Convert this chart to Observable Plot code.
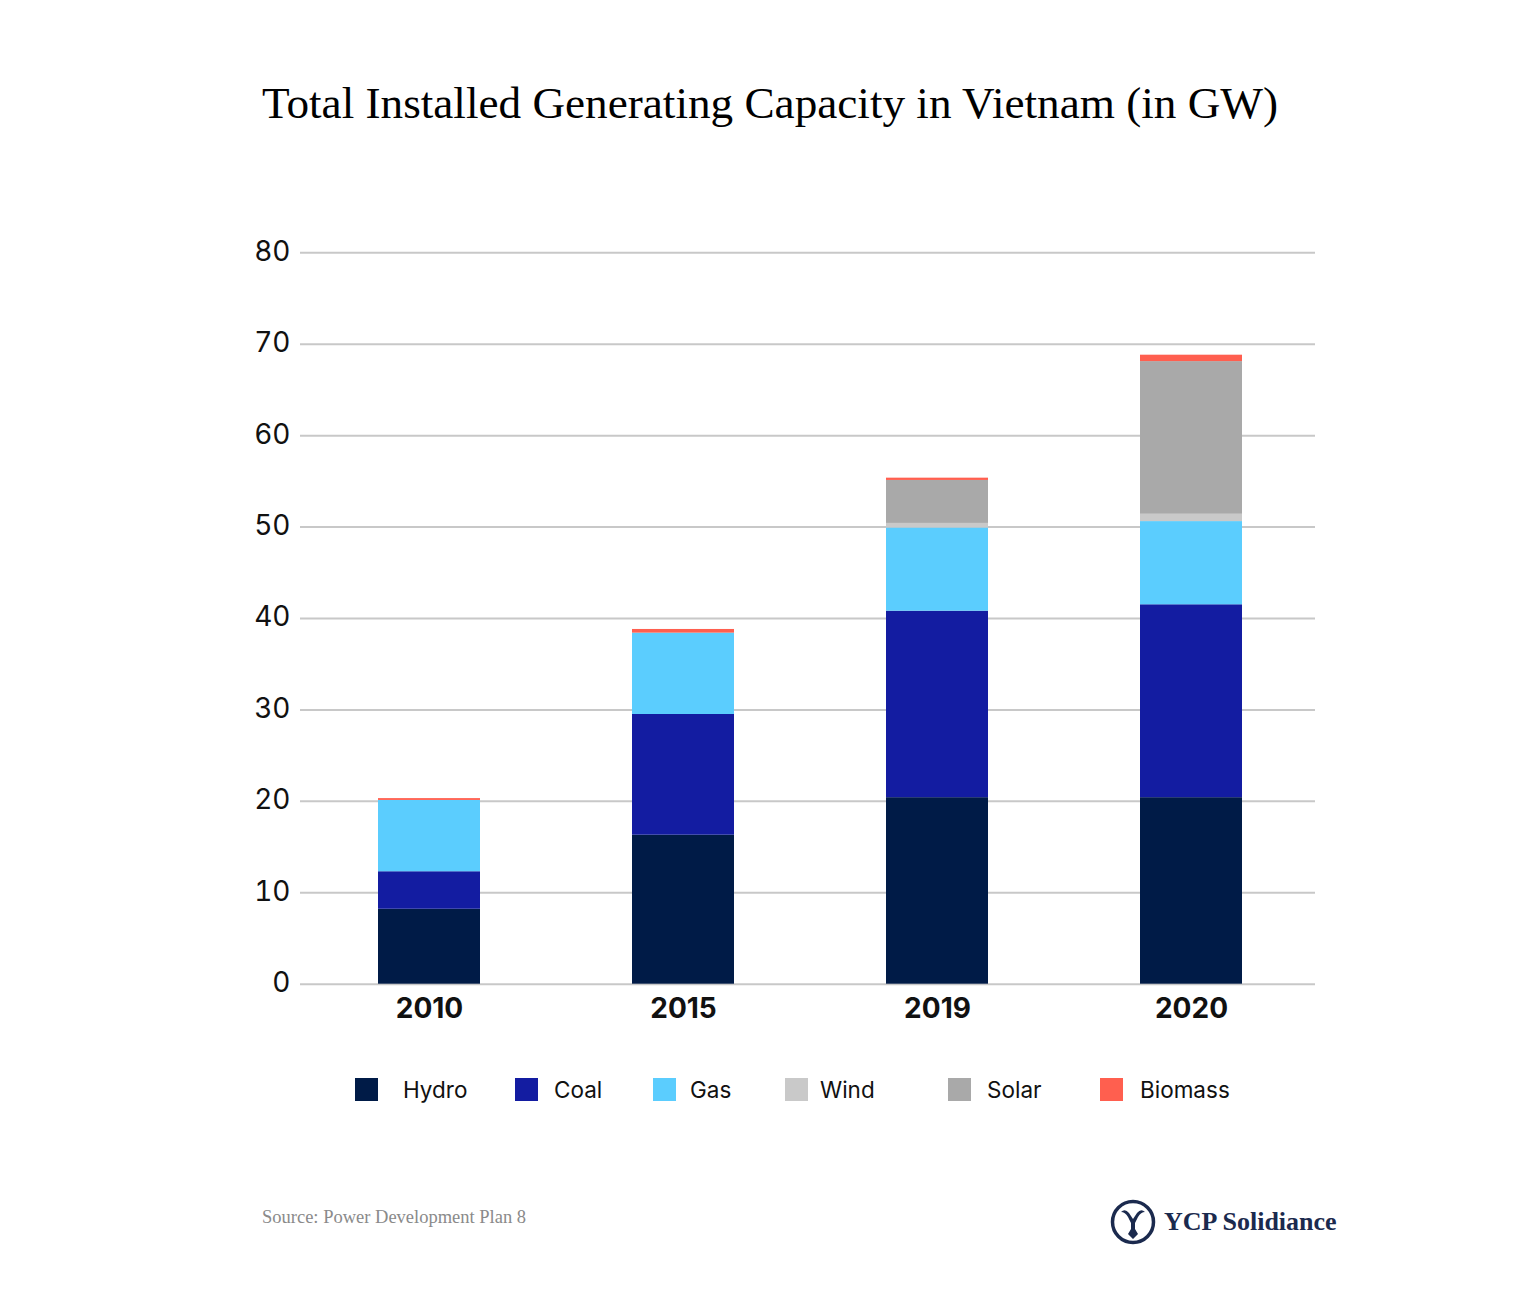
<!DOCTYPE html>
<html><head><meta charset="utf-8">
<script src="https://cdn.jsdelivr.net/npm/d3@7"></script>
<script src="https://cdn.jsdelivr.net/npm/@observablehq/plot@0.6"></script>
<style>
html,body{margin:0;padding:0;background:#fff;}
body{width:1540px;height:1302px;position:relative;overflow:hidden;}
#title{position:absolute;left:0;top:77px;width:1540px;text-align:center;font-family:"Liberation Serif",serif;font-size:45.2px;color:#000;}
#chart{position:absolute;left:0;top:200px;}
#legend{position:absolute;left:355px;top:1076px;display:flex;font-family:Inter,sans-serif;font-size:22.5px;color:#111;}
.item{display:flex;align-items:center;}
.sw{width:23px;height:23px;margin-right:0;}
#source{position:absolute;left:262px;top:1207px;font-family:"Liberation Serif",serif;font-size:18.5px;color:#8a8a8a;}
#logo{position:absolute;left:1110px;top:1199px;display:flex;align-items:center;font-family:"Liberation Serif",serif;font-weight:bold;font-size:26px;color:#1b2a4e;}
</style></head><body>
<div id="title">Total Installed Generating Capacity in Vietnam (in GW)</div>
<div id="chart"></div>
<div id="legend"></div>
<div id="source">Source: Power Development Plan 8</div>
<div id="logo"><svg width="46" height="46" viewBox="0 0 46 46"><circle cx="23" cy="23" r="20.5" fill="none" stroke="#1b2a4e" stroke-width="3.5"/><path d="M11 13 Q15 9 19 14 L23 20 L27 14 Q31 9 35 13 Q31 13 28 18 L25 24 L25 30 L28 35 L23 40 L18 35 L21 30 L21 24 L18 18 Q15 13 11 13 Z" fill="#1b2a4e"/></svg><span style="margin-left:8px">YCP Solidiance</span></div>
<script>
const years = ["2010", "2015", "2019", "2020"];
const sources = ["Hydro", "Coal", "Gas", "Wind", "Solar", "Biomass"];
const colors = ["#001b47", "#131ca1", "#5bcdfe", "#c9c9c9", "#a9a9a9", "#ff5f4f"];
const hydro   = [8.2, 16.3, 20.4, 20.4];
const coal    = [4.1, 13.2, 20.4, 21.1];
const gas     = [7.8, 8.9, 9.1, 9.1];
const wind    = [0, 0, 0.5, 0.8];
const solar   = [0, 0, 4.7, 16.7];
const biomass = [0.2, 0.4, 0.25, 0.7];
const yTicks  = [0, 10, 20, 30, 40, 50, 60, 70, 80];

const series = [hydro, coal, gas, wind, solar, biomass];
const rows = [];
years.forEach((yr, i) => {
  sources.forEach((s, j) => rows.push({year: yr, source: s, value: series[j][i]}));
});

const chart = Plot.plot({
  width: 1540,
  height: 860,
  marginTop: 52.3,
  marginBottom: 76.3,
  marginLeft: 300,
  marginRight: 225,
  style: {fontFamily: "Inter, sans-serif", background: "#fff", color: "#111"},
  x: {domain: years, paddingInner: 0.598, paddingOuter: 0.297, align: 0.52, label: null},
  y: {domain: [0, 80], label: null},
  color: {domain: sources, range: colors},
  marks: [
    Plot.gridY(yTicks, {stroke: "#c8c8c8", strokeOpacity: 1, strokeWidth: 2}),
    Plot.axisY(yTicks, {tickSize: 0, tickPadding: 10, fontSize: 28, label: null, fill: "#111", dy: -1}),
    Plot.axisX({tickSize: 0, tickPadding: 14, fontSize: 28, fontWeight: "bold", label: null, fill: "#111"}),
    Plot.barY(rows, {x: "year", y: "value", fill: "source", z: "source", order: sources})
  ]
});
document.getElementById("chart").appendChild(chart);

const itemWidths = [160, 138, 132, 163, 152, null];
const textGaps = [25, 16, 14, 12, 16, 17];
const legend = document.getElementById("legend");
sources.forEach((s, i) => {
  const it = document.createElement("div");
  it.className = "item";
  if (itemWidths[i]) it.style.width = itemWidths[i] + "px";
  const sw = document.createElement("div");
  sw.className = "sw";
  sw.style.background = colors[i];
  sw.style.marginRight = textGaps[i] + "px";
  const tx = document.createElement("span");
  tx.textContent = s;
  it.appendChild(sw); it.appendChild(tx);
  legend.appendChild(it);
});
</script>
</body></html>
